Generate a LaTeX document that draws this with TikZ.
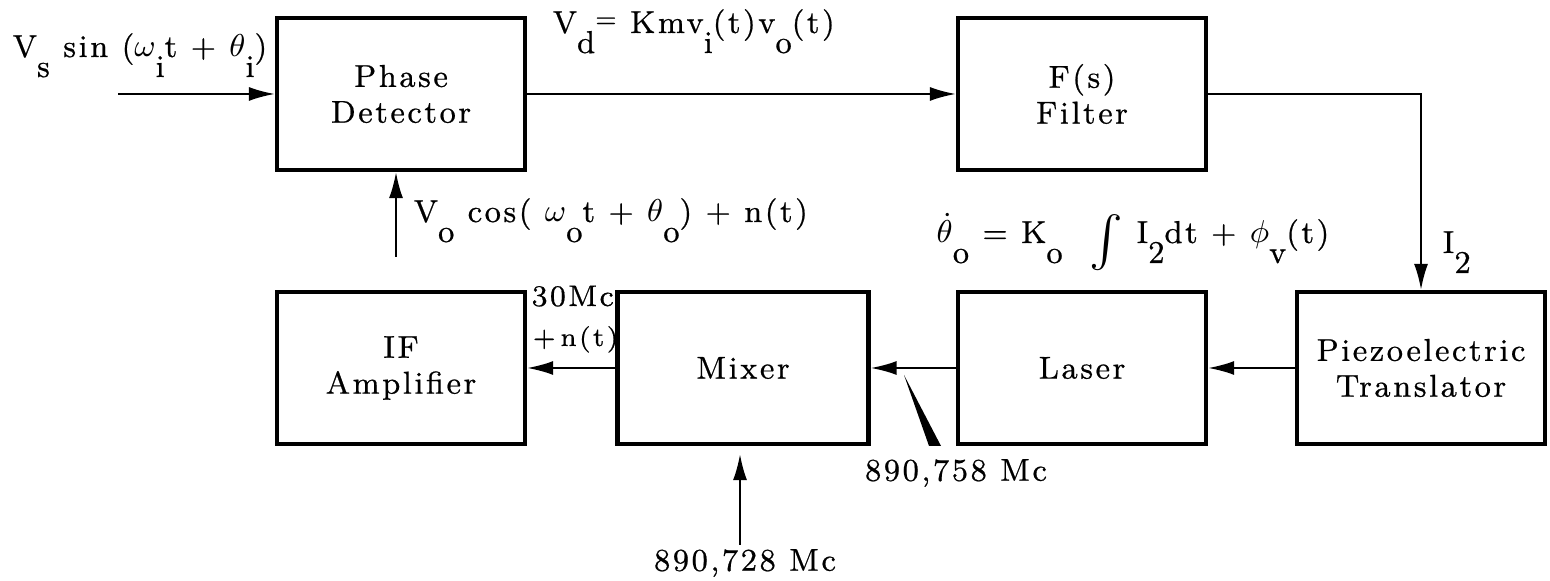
\documentclass[tikz,border=0pt]{standalone}
\usepackage{fontspec}
\usepackage{amsmath}
\usetikzlibrary{arrows.meta}
\usetikzlibrary{positioning}
\newfontfamily\spacedfont{Latin Modern Roman}[LetterSpace=8,FakeBold=0.6]
\newcommand{\dn}[1]{\raisebox{-2mm}{#1}}

\begin{document}
\begin{tikzpicture}[x=0.1mm,y=-0.1mm,
    font=\fontsize{9}{10.2}\spacedfont,
    blk/.style={draw,line width=1.2pt,minimum width=24.8mm,minimum height=15.2mm,
      align=center,inner sep=0pt},
    sig/.style={line width=0.6pt,-{Latex[length=2.6mm,width=1.4mm]}},
    lbl/.style={inner sep=0pt,anchor=base west}]
    \useasboundingbox (0,0) rectangle (1550,581);
    % blocks
    \node[blk] (pd) at (401,94) {Phase\\Detector};
    \node[blk] (filt) at (1082,94) {F(s)\\Filter};
    \node[blk] (piezo) at (1421,368) {Piezoelectric\\Translator};
    \node[blk] (laser) at (1082,368) {Laser};
    \node[blk,minimum width=25.1mm] (mixer) at (743,368) {Mixer};
    \node[blk] (ifamp) at (401,368) {IF\\Amplifier};
    % loop
    \coordinate (vin) at (118,94);
    \draw[sig] (vin) -- (pd.west);
    \draw[sig] (pd.east) -- (filt.west);
    \draw[sig] (filt.east) -| (piezo.north);
    \draw[sig] (piezo.west) -- (laser.east);
    \draw[sig] (laser.west) -- (mixer.east);
    \draw[sig] (mixer.west) -- (ifamp.east);
    \coordinate (fb) at (396,257);
    \draw[sig] (fb) -- (fb |- pd.south);
    \coordinate (lo) at (740,545);
    \draw[sig,shorten >=0.8mm] (lo) -- (lo |- mixer.south);
    \fill (904,375) -- (929,446) -- (941,446) -- cycle;
    % labels
    \node[lbl] (vs) at (12,57) {V\dn{s} sin ($\omega$\dn{i}t + $\theta$\dn{i})};
    \node[lbl] (vd) at (552,33) {V\dn{d}\raisebox{0.6mm}{\scriptsize=} Kmv\dn{i}(t)v\dn{o}(t)};
    \node[lbl] (vo) at (413,222) {V\dn{o} cos( $\omega$\dn{o}t + $\theta$\dn{o}) + n(t)};
    \node[lbl] (thd) at (936,243) {$\dot\theta$\dn{o} = K\dn{o}\ \ \raisebox{-1.2mm}{\fontsize{14}{14}\selectfont$\int$}\ I\dn{2}dt + $\phi$\dn{v}(t)};
    \node[lbl] (i2) at (1442,253) {I\dn{2}};
    \node[lbl,font=\fontsize{8.5}{10}\spacedfont] (mc30) at (531,306) {30Mc};
    \node[lbl,font=\fontsize{7.5}{9}\spacedfont] (nt) at (532,346) {+\,n(t)};
    \node (f758) at (956,473) {890,758 Mc};
    \node (f728) at (745,563) {890,728 Mc};
\end{tikzpicture}
\end{document}
